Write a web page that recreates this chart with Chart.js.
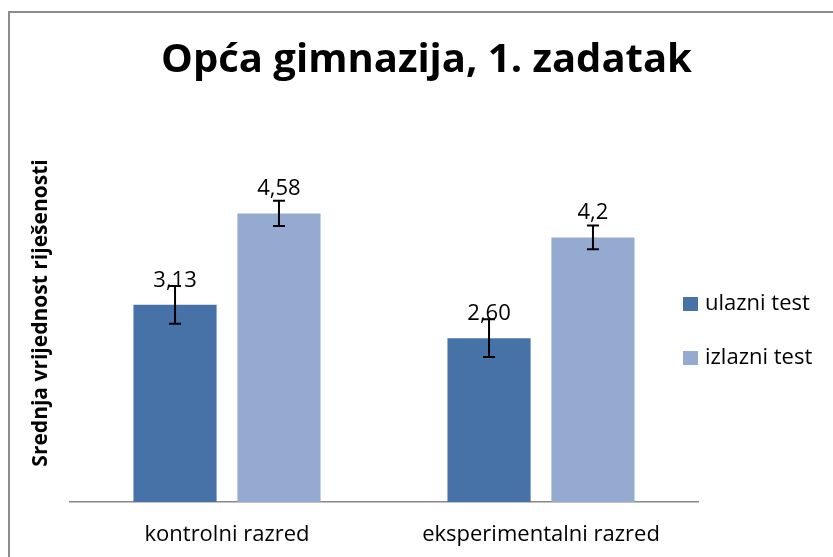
<!DOCTYPE html>
<html>
<head>
<meta charset="utf-8">
<script src="https://cdn.jsdelivr.net/npm/chart.js@4"></script>
<style>
  html, body { margin: 0; padding: 0; background: #fff; }
  #wrap { width: 833px; height: 557px; position: relative; }
</style>
</head>
<body>
<div id="wrap"><canvas id="myChart" width="833" height="557"></canvas></div>
<script>
const categories = ['kontrolni razred', 'eksperimentalni razred'];
const seriesNames = ['ulazni test', 'izlazni test'];
const ulazni = [3.13, 2.60];
const izlazni = [4.58, 4.2];
const ulazniErr = [0.30, 0.30];
const izlazniErr = [0.20, 0.19];
const ulazniLabels = ['3,13', '2,60'];
const izlazniLabels = ['4,58', '4,2'];
const colors = ['#4672a8', '#95aad1'];

const FONT = "'Open Sans', 'Noto Sans', sans-serif";

// frame round the chart (only left and top edges show in the picture)
const framePlugin = {
    id: 'frame',
    beforeDraw(chart) {
        const c = chart.ctx;
        c.save();
        c.strokeStyle = '#8c8c8c';
        c.lineWidth = 2;
        c.beginPath();
        c.moveTo(9, chart.height);
        c.lineTo(9, 12);
        c.lineTo(chart.width, 12);
        c.stroke();
        c.restore();
    }
};

// error bars and value labels
const extrasPlugin = {
    id: 'extras',
    afterDatasetsDraw(chart) {
        const c = chart.ctx;
        const y = chart.scales.y;
        c.save();
        chart.data.datasets.forEach((ds, di) => {
            const meta = chart.getDatasetMeta(di);
            meta.data.forEach((bar, i) => {
                const v = ds.data[i];
                const e = ds.errors[i];
                const yTop = y.getPixelForValue(v + e);
                const yBot = y.getPixelForValue(v - e);
                c.strokeStyle = '#000';
                c.lineWidth = 2;
                c.beginPath();
                c.moveTo(bar.x, yTop); c.lineTo(bar.x, yBot);
                c.moveTo(bar.x - 6, yTop); c.lineTo(bar.x + 6, yTop);
                c.moveTo(bar.x - 6, yBot); c.lineTo(bar.x + 6, yBot);
                c.stroke();
                c.fillStyle = '#000';
                c.font = '22px ' + FONT;
                c.textAlign = 'center';
                c.textBaseline = 'alphabetic';
                c.fillText(ds.valueLabels[i], bar.x, bar.y - 18);
            });
        });
        c.restore();
    }
};

// legend on the right, next to the plot
const legendPlugin = {
    id: 'sideLegend',
    afterDraw(chart) {
        const c = chart.ctx;
        c.save();
        c.font = '22px ' + FONT;
        c.textBaseline = 'middle';
        c.textAlign = 'left';
        chart.data.datasets.forEach((ds, i) => {
            const yy = 304 + i * 54;
            c.fillStyle = ds.backgroundColor;
            c.fillRect(683, yy - 7, 15, 14);
            c.fillStyle = '#000';
            c.fillText(ds.label, 705, yy);
        });
        c.restore();
    }
};

const data = {
    labels: categories,
    datasets: [{
        label: seriesNames[0],
        data: ulazni,
        errors: ulazniErr,
        valueLabels: ulazniLabels,
        backgroundColor: colors[0],
    }, {
        label: seriesNames[1],
        data: izlazni,
        errors: izlazniErr,
        valueLabels: izlazniLabels,
        backgroundColor: colors[1],
    }],
};

const config = {
    type: 'bar',
    data: data,
    options: {
        responsive: false,
        animation: false,
        categoryPercentage: 0.662,
        barPercentage: 0.8,
        layout: { padding: { left: 20, right: 0, top: 0, bottom: 0 } },
        plugins: {
            legend: { display: false },
            tooltip: { enabled: false },
            title: {
                display: true,
                text: 'Opća gimnazija, 1. zadatak',
                color: '#000',
                font: { family: FONT, size: 40, weight: 'bold' },
                padding: { top: 37, bottom: 39 },
            },
        },
        scales: {
            x: {
                grid: { display: false, drawTicks: false },
                border: { display: true, color: '#888', width: 1.5 },
                ticks: { color: '#000', font: { family: FONT, size: 22 }, padding: 20 },
                afterFit: (s) => { s.height = 55; },
            },
            y: {
                min: 0,
                max: 6,
                grid: { display: false, drawTicks: false },
                border: { display: false },
                ticks: { display: false },
                title: {
                    display: true,
                    text: 'Srednja vrijednost riješenosti',
                    color: '#000',
                    font: { family: FONT, size: 21, weight: 'bold' },
                    padding: { top: 8, bottom: 0 },
                },
                afterFit: (s) => { s.width = 50; },
            },
            // empty axis that keeps room for the legend on the right
            side: {
                position: 'right',
                grid: { display: false, drawTicks: false },
                border: { display: false },
                ticks: { display: false },
                afterFit: (s) => { s.width = 135; },
            },
        },
    },
    plugins: [framePlugin, extrasPlugin, legendPlugin],
};
const myChart = new Chart(document.getElementById('myChart').getContext('2d'), config);
</script>
</body>
</html>
